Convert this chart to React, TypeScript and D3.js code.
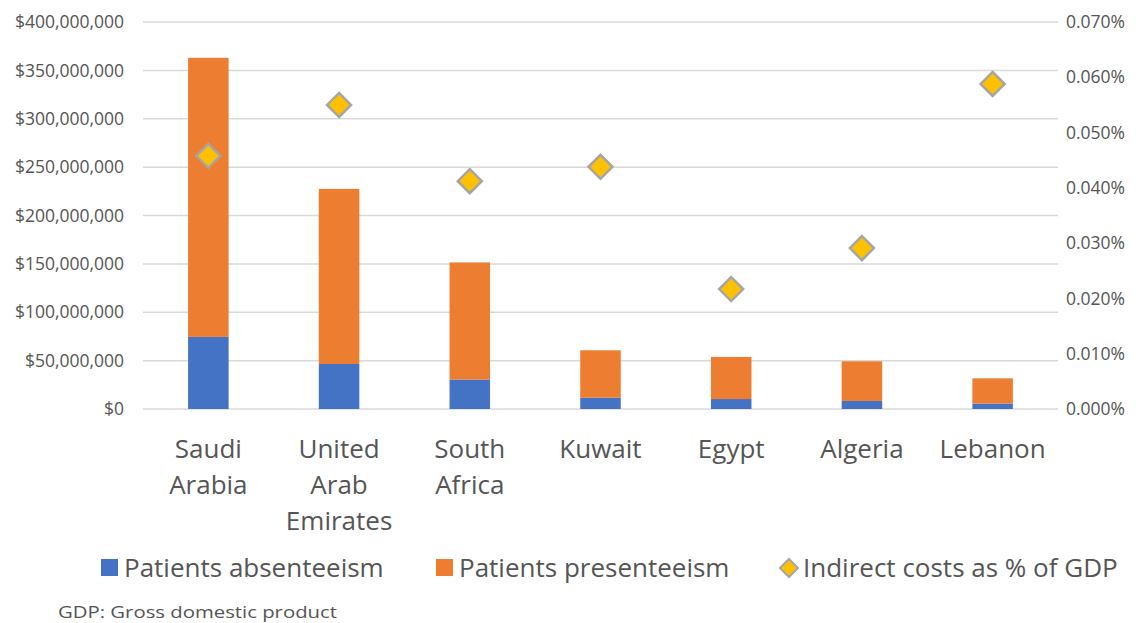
import React from "react";
import * as d3 from "d3";

const categories: string[][] = [
  ["Saudi", "Arabia"],
  ["United", "Arab", "Emirates"],
  ["South", "Africa"],
  ["Kuwait"],
  ["Egypt"],
  ["Algeria"],
  ["Lebanon"],
];
const absenteeism = [74.5e6, 46.5e6, 30.5e6, 11.7e6, 10.3e6, 8.3e6, 5.6e6];
const presenteeism = [288.5e6, 181e6, 121e6, 49e6, 43.5e6, 41e6, 26.1e6];
const gdpShare = [0.0458, 0.055, 0.0412, 0.0438, 0.0217, 0.0291, 0.0588];
const leftTicks = [0, 50e6, 100e6, 150e6, 200e6, 250e6, 300e6, 350e6, 400e6];
const rightTicks = [0, 0.01, 0.02, 0.03, 0.04, 0.05, 0.06, 0.07];
const legendLabels = ["Patients absenteeism", "Patients presenteeism", "Indirect costs as % of GDP"];
const footnote = "GDP: Gross domestic product";

const W = 1141;
const H = 623;
const left = 143;
const right = 1058;
const top = 22;
const bottom = 409;
const font = "'Open Sans', 'Noto Sans', sans-serif";
const textColor = "#555555";
const blue = "#4472C4";
const orange = "#ED7D31";
const gold = "#FFC000";
const gray = "#A5A5A5";

export default function App() {
  const x = d3
    .scaleBand<number>()
    .domain(categories.map((_, i) => i))
    .range([left, right])
    .paddingInner(0.69)
    .paddingOuter(0.345);
  const y = d3.scaleLinear().domain([0, 400e6]).range([bottom, top]);
  const y2 = d3.scaleLinear().domain([0, 0.07]).range([bottom, top]);
  const money = (v: number) => "$" + d3.format(",")(v);
  const pct = (v: number) => v.toFixed(3) + "%";
  const diamond = (cx: number, cy: number, r: number) =>
    `M${cx},${cy - r}L${cx + r},${cy}L${cx},${cy + r}L${cx - r},${cy}Z`;

  return (
    <svg
      width={W}
      height={H}
      style={{ position: "absolute", left: 0, top: 0, background: "#fff" }}
      fontFamily={font}
    >
      {leftTicks.map((t) => (
        <g key={t}>
          <line x1={left} x2={right} y1={y(t)} y2={y(t)} stroke="#D9D9D9" strokeWidth={1.5} />
          <text x={124} y={y(t)} dy="0.35em" textAnchor="end" fontSize={17.5} fill={textColor}>
            {money(t)}
          </text>
        </g>
      ))}
      {rightTicks.map((t) => (
        <text key={t} x={1066} y={y2(t)} dy="0.35em" textAnchor="start" fontSize={17.5} fill={textColor}>
          {pct(t)}
        </text>
      ))}
      {categories.map((_, i) => {
        const bx = x(i)!;
        const bw = x.bandwidth();
        return (
          <g key={i}>
            <rect x={bx} width={bw} y={y(absenteeism[i])} height={y(0) - y(absenteeism[i])} fill={blue} />
            <rect
              x={bx}
              width={bw}
              y={y(absenteeism[i] + presenteeism[i])}
              height={y(absenteeism[i]) - y(absenteeism[i] + presenteeism[i])}
              fill={orange}
            />
          </g>
        );
      })}
      {gdpShare.map((v, i) => (
        <path
          key={i}
          d={diamond(x(i)! + x.bandwidth() / 2, y2(v), 12)}
          fill={gold}
          stroke={gray}
          strokeWidth={2.5}
        />
      ))}
      {categories.map((lines, i) => (
        <text key={i} textAnchor="middle" fontSize={26} fill={textColor}>
          {lines.map((l, j) => (
            <tspan key={j} x={x(i)! + x.bandwidth() / 2} y={458 + j * 36}>
              {l}
            </tspan>
          ))}
        </text>
      ))}
      <g fontSize={26} fill={textColor}>
        <rect x={101} y={559} width={17} height={17} fill={blue} />
        <text x={124} y={577}>{legendLabels[0]}</text>
        <rect x={436} y={559} width={17} height={17} fill={orange} />
        <text x={459} y={577}>{legendLabels[1]}</text>
        <path d={diamond(789, 568, 9)} fill={gold} stroke={gray} strokeWidth={2} />
        <text x={803} y={577}>{legendLabels[2]}</text>
      </g>
      <text x={58} y={618} fontSize={17} fill={textColor} textLength={279} lengthAdjust="spacingAndGlyphs">
        {footnote}
      </text>
    </svg>
  );
}
